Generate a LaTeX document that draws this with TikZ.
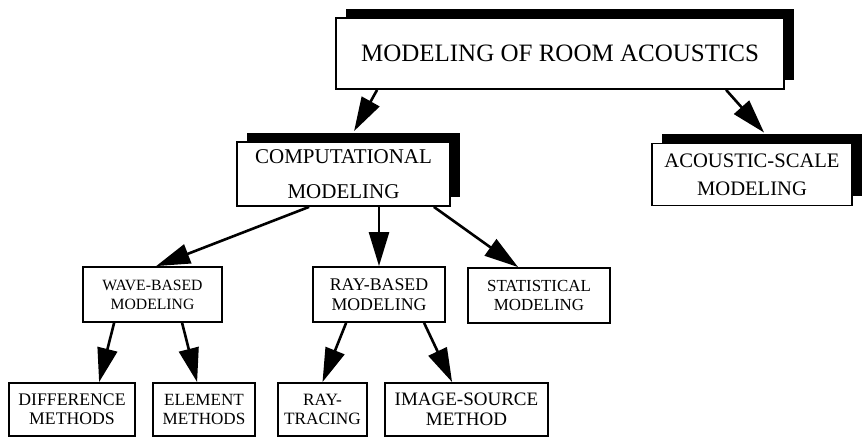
\documentclass[tikz,border=0pt]{standalone}
\usepackage{fontspec}
\setmainfont{Liberation Serif}
\usetikzlibrary{arrows.meta,shadows,calc}

\begin{document}
\begin{tikzpicture}[x=1pt,y=1pt]
\tikzstyle{every node}=[font=\rmfamily]
\tikzstyle{box}=[draw, fill=white, line width=1.8pt, align=center, inner sep=0pt]
\tikzstyle{shadowbox}=[box, drop shadow={shadow xshift=10pt, shadow yshift=9pt, fill=black, opacity=1}]
\tikzstyle{link}=[-{Triangle[length=34pt,width=20pt]}, line width=2.6pt]
\useasboundingbox (0,0) rectangle (862,437);

\node[shadowbox, minimum width=448pt, minimum height=71pt, font=\fontsize{25}{30}\selectfont] (room) at (560,383.5) {MODELING OF ROOM ACOUSTICS};

\node[shadowbox, minimum width=213pt, minimum height=64pt, font=\fontsize{21}{35}\selectfont] (comp) at (343.5,263) {COMPUTATIONAL\\MODELING};
\node[shadowbox, minimum width=200pt, minimum height=62pt, font=\fontsize{20.6}{28}\selectfont] (scale) at (752,262.5) {ACOUSTIC-SCALE\\MODELING};

\node[box, minimum width=139pt, minimum height=55pt, font=\fontsize{15.7}{19}\selectfont] (wave) at (152.5,142.5) {WAVE-BASED\\MODELING};
\node[box, minimum width=132pt, minimum height=55pt, font=\fontsize{17.8}{20}\selectfont] (ray) at (379,142.5) {RAY-BASED\\MODELING};
\node[box, minimum width=142pt, minimum height=55pt, font=\fontsize{16.9}{19}\selectfont] (stat) at (539,141.5) {STATISTICAL\\MODELING};

\node[box, minimum width=126pt, minimum height=53pt, font=\fontsize{17.7}{19}\selectfont] (diff) at (72,27.5) {DIFFERENCE\\METHODS};
\node[box, minimum width=102pt, minimum height=53pt, font=\fontsize{17.1}{19}\selectfont] (elem) at (204,27.5) {ELEMENT\\METHODS};
\node[box, minimum width=89pt, minimum height=53pt, font=\fontsize{17.3}{19}\selectfont] (tracing) at (322.5,27.5) {RAY-\\TRACING};
\node[box, minimum width=163pt, minimum height=53pt, font=\fontsize{19}{20}\selectfont] (imgsrc) at (466.5,27.5) {IMAGE-SOURCE\\METHOD};

\draw[link] ($(room.south west)+(42,0)$) -- ($(comp.north west)+(118,10)$);
\draw[link] ($(room.south west)+(391,0)$) -- ($(scale.north west)+(113,10)$);
\draw[link] ($(comp.south west)+(73,0)$) -- ($(wave.north west)+(74,0)$);
\draw[link] (ray.north |- comp.south) -- (ray.north);
\draw[link] ($(comp.south east)+(-17,0)$) -- ($(stat.north west)+(51,0)$);
\draw[link] ($(wave.south west)+(32,0)$) -- ($(diff.north west)+(91,0)$);
\draw[link] ($(wave.south west)+(100,0)$) -- ($(elem.north west)+(45,0)$);
\draw[link] ($(ray.south west)+(34,0)$) -- (tracing.north);
\draw[link] ($(ray.south west)+(112,0)$) -- ($(imgsrc.north west)+(68,0)$);

\end{tikzpicture}
\end{document}
